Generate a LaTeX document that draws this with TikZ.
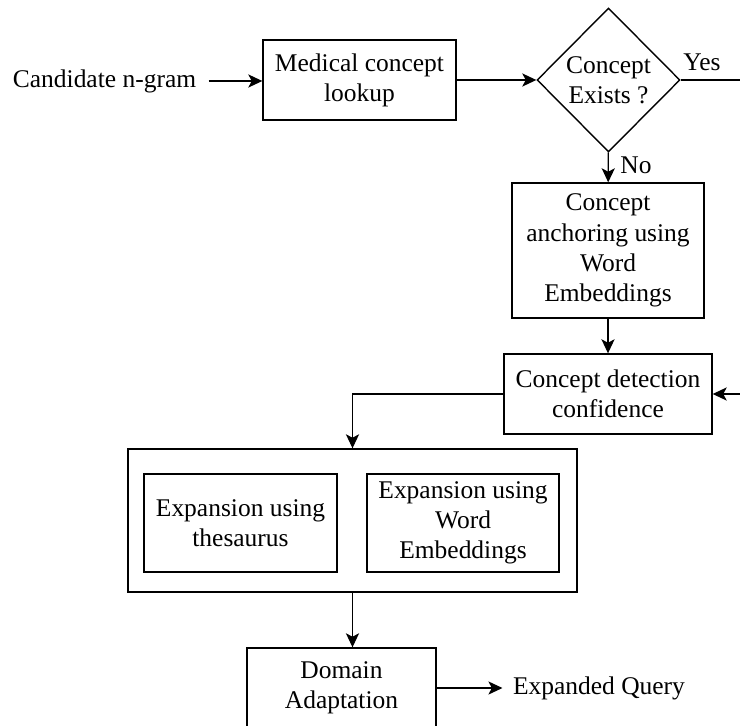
\documentclass[tikz,border=0pt]{standalone}
\usepackage{fontspec}
\setmainfont{Liberation Serif}
\usetikzlibrary{shapes.geometric,arrows.meta}

\begin{document}
\begin{tikzpicture}[x=0.02cm,y=-0.02cm,>={Stealth[length=8pt,width=7.5pt,inset=2pt]},line width=0.7pt,
  every node/.style={font=\fontsize{14.5}{17.2}\selectfont,align=center},
  blok/.style={draw,inner sep=0pt,line width=0.8pt},
  romb/.style={draw,diamond,inner sep=0pt,line width=0.8pt}]
\clip (0,0) rectangle (740,726);
%Верхняя строка
\node (ngram) [inner xsep=6.8pt] at (104.5,81) {Candidate n-gram};
\node (lookup) [blok,minimum width=3.86cm,minimum height=1.6cm] at (359.5,80) {Medical concept\\lookup};
\node (exists) [romb,minimum width=2.86cm,minimum height=2.88cm] at (608.5,80) {Concept\\Exists ?};
\node (yes) at (702,62) {Yes};
\coordinate (vyhod) at (740,80);
%Правый столбец
\node (anchor) [blok,minimum width=3.84cm,minimum height=2.7cm] at (608,250.5) {Concept\\anchoring using\\Word\\Embeddings};
\node (no) at (636,165) {No};
\node (detect) [blok,minimum width=4.16cm,minimum height=1.6cm] at (608,394) {Concept detection\\confidence};
\coordinate (vhod) at (740,394);
%Блок расширения
\node (expand) [blok,minimum width=8.98cm,minimum height=2.86cm] at (352.5,520.5) {};
\node (thes) [blok,minimum width=3.86cm,minimum height=1.96cm] at (240.5,523) {Expansion using\\thesaurus};
\node (wemb) [blok,minimum width=3.84cm,minimum height=1.96cm] at (463,523) {Expansion using\\Word\\Embeddings};
%Нижняя строка
\node (domain) [blok,minimum width=3.78cm,minimum height=1.6cm] at (341.5,688) {Domain\\Adaptation};
\node (query) [inner xsep=5.7pt] at (599,688) {Expanded Query};
%Стрелки
\draw[->] (ngram.east) -- (ngram.east -| lookup.west);
\draw[->] (lookup) -- (exists);
\draw (exists.east) -- (vyhod);
\draw[->] (exists) -- (anchor);
\draw[->] (anchor) -- (detect);
\draw[->] (vhod) -- (detect.east);
\draw[->] (detect.west) -| (expand.north);
\draw[->] (expand.south) -- (expand.south |- domain.north);
\draw[->] (domain.east) -- (query.west);
\end{tikzpicture}
\end{document}
